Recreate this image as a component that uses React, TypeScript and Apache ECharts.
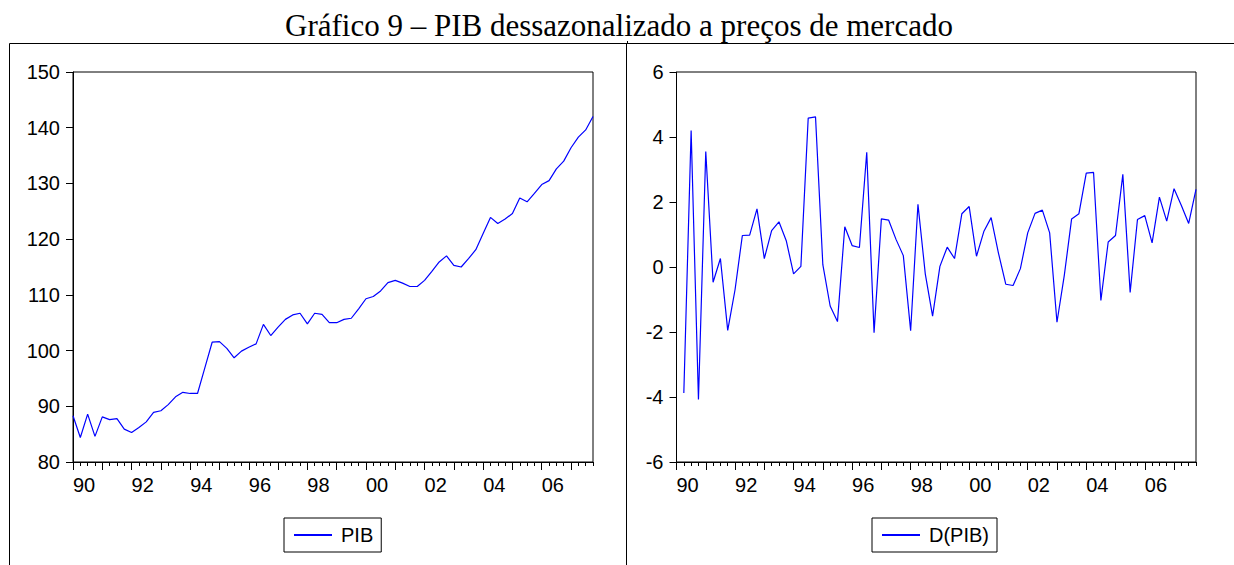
import React, { useEffect, useRef } from "react";
import * as echarts from "echarts";

// Quarterly data, 1990Q1 .. 2007Q4 (72 quarters)
const startYear = 1990;
const yearTickLabels = ["90", "92", "94", "96", "98", "00", "02", "04", "06"];

// PIB dessazonalizado (index), 1990Q1 .. 2007Q4
const pib: number[] = [
  88.3, 84.4, 88.6, 84.6, 88.1, 87.6, 87.8, 85.9,
  85.3, 86.2, 87.2, 88.9, 89.2, 90.3, 91.7, 92.5,
  92.3, 92.3, 96.9, 101.5, 101.6, 100.4, 98.7, 99.9,
  100.6, 101.2, 104.7, 102.7, 104.2, 105.6, 106.4, 106.7,
  104.8, 106.7, 106.5, 105.0, 105.0, 105.6, 105.8, 107.5,
  109.3, 109.7, 110.7, 112.2, 112.6, 112.1, 111.5, 111.5,
  112.6, 114.2, 115.9, 117.0, 115.3, 115.0, 116.5, 118.1,
  121.0, 123.9, 122.8, 123.6, 124.6, 127.4, 126.7, 128.2,
  129.8, 130.5, 132.6, 134.0, 136.4, 138.3, 139.6, 142.0,
];

// D(PIB), 1990Q2 .. 2007Q4 (71 quarters)
const dpib: number[] = [
  -3.88, 4.2, -4.08, 3.55, -0.47, 0.26, -1.95,
  -0.7, 0.97, 0.98, 1.79, 0.26, 1.12, 1.39, 0.81,
  -0.21, 0.02, 4.58, 4.62, 0.07, -1.2, -1.68, 1.24,
  0.66, 0.6, 3.53, -2.02, 1.48, 1.44, 0.85, 0.35,
  -1.96, 1.93, -0.21, -1.51, 0.02, 0.61, 0.26, 1.64,
  1.86, 0.33, 1.09, 1.52, 0.43, -0.53, -0.57, -0.05,
  1.05, 1.65, 1.75, 1.05, -1.7, -0.26, 1.48, 1.64,
  2.89, 2.91, -1.03, 0.77, 0.97, 2.85, -0.78, 1.46,
  1.58, 0.74, 2.15, 1.41, 2.41, 1.89, 1.34, 2.39,
];

const TITLE = "Gráfico 9 – PIB dessazonalizado a preços de mercado";
const FONT = '"Liberation Sans", Arial, sans-serif';
const BLUE = "#0000ff";

const nQ = pib.length; // 72
const lastIdx = nQ - 1;
const yearTicks: number[] = [];
for (let i = 0; i <= lastIdx; i += 4) yearTicks.push(i);

function buildPanel(idx: number, left: number, width: number, yMin: number, yMax: number, yInt: number) {
  const top = 72;
  const height = 390;
  const grids = [
    { left, top, width, height, show: true, borderColor: "#000", borderWidth: 1, backgroundColor: "transparent" },
    { left, top, width, height, show: false },
  ];
  const xAxes = [
    {
      gridIndex: idx * 2,
      type: "value",
      position: "bottom",
      min: 0,
      max: lastIdx,
      interval: 1,
      axisLine: { show: true, onZero: false, lineStyle: { color: "#000", width: 1 } },
      axisTick: { show: true, length: 4, lineStyle: { color: "#000", width: 1 } },
      splitLine: { show: false },
      axisLabel: {
        show: true,
        align: "left",
        margin: 13,
        fontSize: 20,
        fontFamily: FONT,
        color: "#000",
        showMinLabel: true,
        showMaxLabel: true,
        formatter: (v: number) => {
          if (v % 8 !== 0) return "";
          const k = v / 8;
          return yearTickLabels[k] ?? "";
        },
      },
    },
    {
      gridIndex: idx * 2 + 1,
      type: "value",
      position: "bottom",
      min: 0,
      max: lastIdx,
      interval: 4,
      axisLine: { show: false, onZero: false },
      axisTick: { show: true, length: 8, customValues: yearTicks, lineStyle: { color: "#000", width: 1 } },
      axisLabel: { show: false },
      splitLine: { show: false },
    },
  ];
  const yAxes = [
    {
      gridIndex: idx * 2,
      type: "value",
      min: yMin,
      max: yMax,
      interval: yInt,
      axisLine: { show: true, onZero: false, lineStyle: { color: "#000", width: 1 } },
      axisTick: { show: true, length: 7, lineStyle: { color: "#000", width: 1 } },
      splitLine: { show: false },
      axisLabel: { margin: 13, fontSize: 20, fontFamily: FONT, color: "#000" },
    },
    { gridIndex: idx * 2 + 1, type: "value", min: 0, max: 1, show: false },
  ];
  return { grids, xAxes, yAxes };
}

export default function App() {
  const ref = useRef<HTMLDivElement>(null);
  useEffect(() => {
    if (!ref.current) return;
    const chart = echarts.init(ref.current, undefined, { renderer: "svg" });
    const p1 = buildPanel(0, 73, 520, 80, 150, 10);
    const p2 = buildPanel(1, 676.5, 519.5, -6, 6, 2);
    const legendCommon = {
      orient: "horizontal",
      top: 518,
      padding: [7, 8, 7, 9],
      itemWidth: 38,
      itemHeight: 14,
      borderColor: "#000",
      borderWidth: 1,
      borderRadius: 0,
      itemStyle: { opacity: 0 },
      textStyle: { fontSize: 20, fontFamily: FONT, color: "#000", lineHeight: 20, padding: [0, 0, 0, 4] },
    };
    chart.setOption({
      animation: false,
      backgroundColor: "#fff",
      title: {
        text: TITLE,
        left: 285,
        top: 10,
        padding: 0,
        textStyle: { fontFamily: '"Liberation Serif", "Times New Roman", serif', fontSize: 31, fontWeight: "normal", color: "#000" },
      },
      legend: [
        { ...legendCommon, left: 284, data: ["PIB"] },
        { ...legendCommon, left: 872, data: ["D(PIB)"] },
      ],
      grid: [...p1.grids, ...p2.grids],
      xAxis: [...p1.xAxes, ...p2.xAxes],
      yAxis: [...p1.yAxes, ...p2.yAxes],
      graphic: [
        { type: "line", shape: { x1: 9.5, y1: 43.5, x2: 1234, y2: 43.5 }, style: { stroke: "#000", lineWidth: 1 } },
        { type: "line", shape: { x1: 9.5, y1: 43.5, x2: 9.5, y2: 565 }, style: { stroke: "#000", lineWidth: 1 } },
        { type: "line", shape: { x1: 626.5, y1: 43.5, x2: 626.5, y2: 565 }, style: { stroke: "#000", lineWidth: 1 } },
        { type: "line", shape: { x1: 627.5, y1: 41, x2: 627.5, y2: 43.5 }, style: { stroke: "#000", lineWidth: 1 } },
      ],
      series: [
        {
          name: "PIB",
          type: "line",
          xAxisIndex: 0,
          yAxisIndex: 0,
          data: pib.map((v, i) => [i, v]),
          symbol: "none",
          lineStyle: { color: BLUE, width: 1.2 },
          itemStyle: { color: BLUE },
        },
        {
          name: "D(PIB)",
          type: "line",
          xAxisIndex: 2,
          yAxisIndex: 2,
          data: dpib.map((v, i) => [i + 1, v]),
          symbol: "none",
          lineStyle: { color: BLUE, width: 1.2 },
          itemStyle: { color: BLUE },
        },
      ],
    });
    return () => chart.dispose();
  }, []);
  return (
    <div
      ref={ref}
      data-start-year={startYear}
      style={{ position: "fixed", left: 0, top: 0, width: 1234, height: 565, background: "#fff" }}
    />
  );
}
